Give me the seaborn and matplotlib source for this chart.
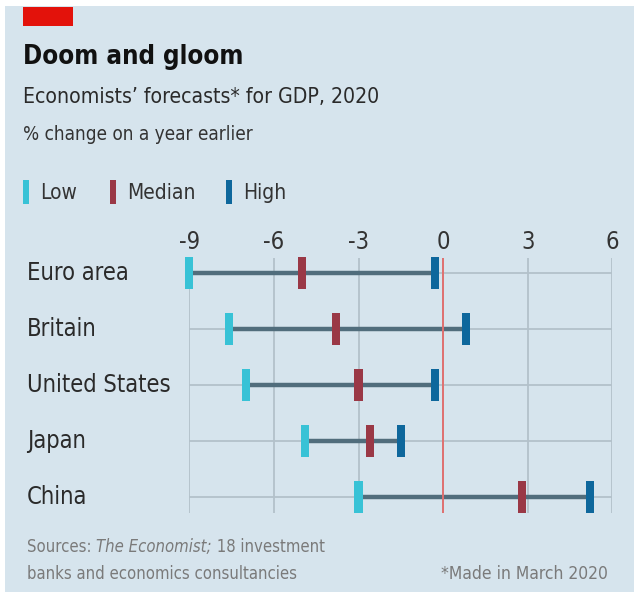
import matplotlib
matplotlib.use("Agg")
import matplotlib.pyplot as plt
from matplotlib.patches import Rectangle
import seaborn as sns
import pandas as pd

countries = ["Euro area", "Britain", "United States", "Japan", "China"]
low = [-9.0, -7.6, -7.0, -4.9, -3.0]
median = [-5.0, -3.8, -3.0, -2.6, 2.8]
high = [-0.3, 0.8, -0.3, -1.5, 5.2]
x_ticks = [-9, -6, -3, 0, 3, 6]

colors = {"Low": "#38c2d6", "Median": "#9a3846", "High": "#0e679c"}
bg = "#d6e4ed"
txt = "#2a2a2a"

sns.set_style("white")
plt.rcParams["font.family"] = ["Liberation Sans Narrow", "DejaVu Sans"]
plt.rcParams["font.stretch"] = "condensed"

df = pd.DataFrame({"country": countries, "Low": low, "Median": median, "High": high})
long = df.melt(id_vars="country", var_name="kind", value_name="value")
long["row"] = long["country"].map({c: i for i, c in enumerate(countries)})

fig = plt.figure(figsize=(6.34, 5.97), dpi=100)
fig.patch.set_facecolor("white")
W, H = 634, 597
fig.patches.append(Rectangle((5 / W, 1 - 592 / H), 1, (592 - 6) / H,
                             transform=fig.transFigure, facecolor=bg,
                             edgecolor="none", zorder=-10))
fig.patches.append(Rectangle((23 / W, 1 - 26 / H), 50 / W, 19 / H,
                             transform=fig.transFigure, facecolor="#e3120b",
                             edgecolor="none", zorder=-5))

ax = fig.add_axes([189.3 / W, 1 - 513 / H, 423 / W, 255 / H])
ax.patch.set_alpha(0)

# grid
for t in x_ticks:
    ax.axvline(t, color="#b3c1ca", lw=1.3, zorder=1)
for i in range(len(countries)):
    ax.plot([-9, 6], [i, i], color="#b3c1ca", lw=1.3, zorder=1)

ax.hlines(range(len(countries)), low, high, color="#516d7c", lw=3.2, zorder=2)
ax.axvline(0, color="#e07070", lw=1.4, zorder=3)

rect = [(-1, -4), (1, -4), (1, 4), (-1, 4)]
sns.scatterplot(data=long, x="value", y="row", hue="kind", palette=colors,
                marker=rect, s=540, linewidth=0, legend=False, ax=ax,
                zorder=4, clip_on=False)

ax.set_xlim(-9, 6)
ax.set_ylim(4.28, -0.273)
ax.xaxis.tick_top()
ax.set_xticks(x_ticks)
ax.set_xticklabels([str(t) for t in x_ticks])
ax.set_yticks(range(len(countries)))
ax.set_yticklabels([])
ax.tick_params(axis="x", length=0, pad=3, labelsize=17, labelcolor="#333333")
ax.tick_params(axis="y", length=0)
ax.set_xlabel("")
ax.set_ylabel("")
for s in ax.spines.values():
    s.set_visible(False)

for i, c in enumerate(countries):
    ax.text(27 / W, ax.transData.transform((0, i))[1] / H, c,
            transform=fig.transFigure, ha="left", va="center",
            fontsize=17, color=txt)

fig.text(23 / W, 1 - 57 / H, "Doom and gloom", fontsize=18.5, fontweight="bold",
         color="#111111", va="center")
fig.text(23 / W, 1 - 97 / H, "Economists\u2019 forecasts* for GDP, 2020",
         fontsize=15.2, color=txt, va="center")
fig.text(23 / W, 1 - 135 / H, "% change on a year earlier",
         fontsize=13.6, color="#333333", va="center")

legend_x = {"Low": 23, "Median": 110, "High": 226}
for name, x0 in legend_x.items():
    fig.patches.append(Rectangle((x0 / W, 1 - 204 / H), 6 / W, 24 / H,
                                 transform=fig.transFigure,
                                 facecolor=colors[name], edgecolor="none"))
    fig.text((x0 + 17) / W, 1 - 193 / H, name, fontsize=15, color="#333333",
             va="center")

grey = "#7a7a7a"
renderer = fig.canvas.get_renderer()
x = 27
for part, style in [("Sources: ", "normal"), ("The Economist;", "italic"),
                    (" 18 investment", "normal")]:
    t = fig.text(x / W, 1 - 547 / H, part, fontsize=12, color=grey,
                 va="center", style=style)
    x += t.get_window_extent(renderer).width
fig.text(27 / W, 1 - 574 / H, "banks and economics consultancies",
         fontsize=12, color=grey, va="center")
fig.text(608 / W, 1 - 574 / H, "*Made in March 2020",
         fontsize=12.5, color=grey, va="center", ha="right")

fig.savefig("out.png", dpi=100, facecolor=fig.get_facecolor())
